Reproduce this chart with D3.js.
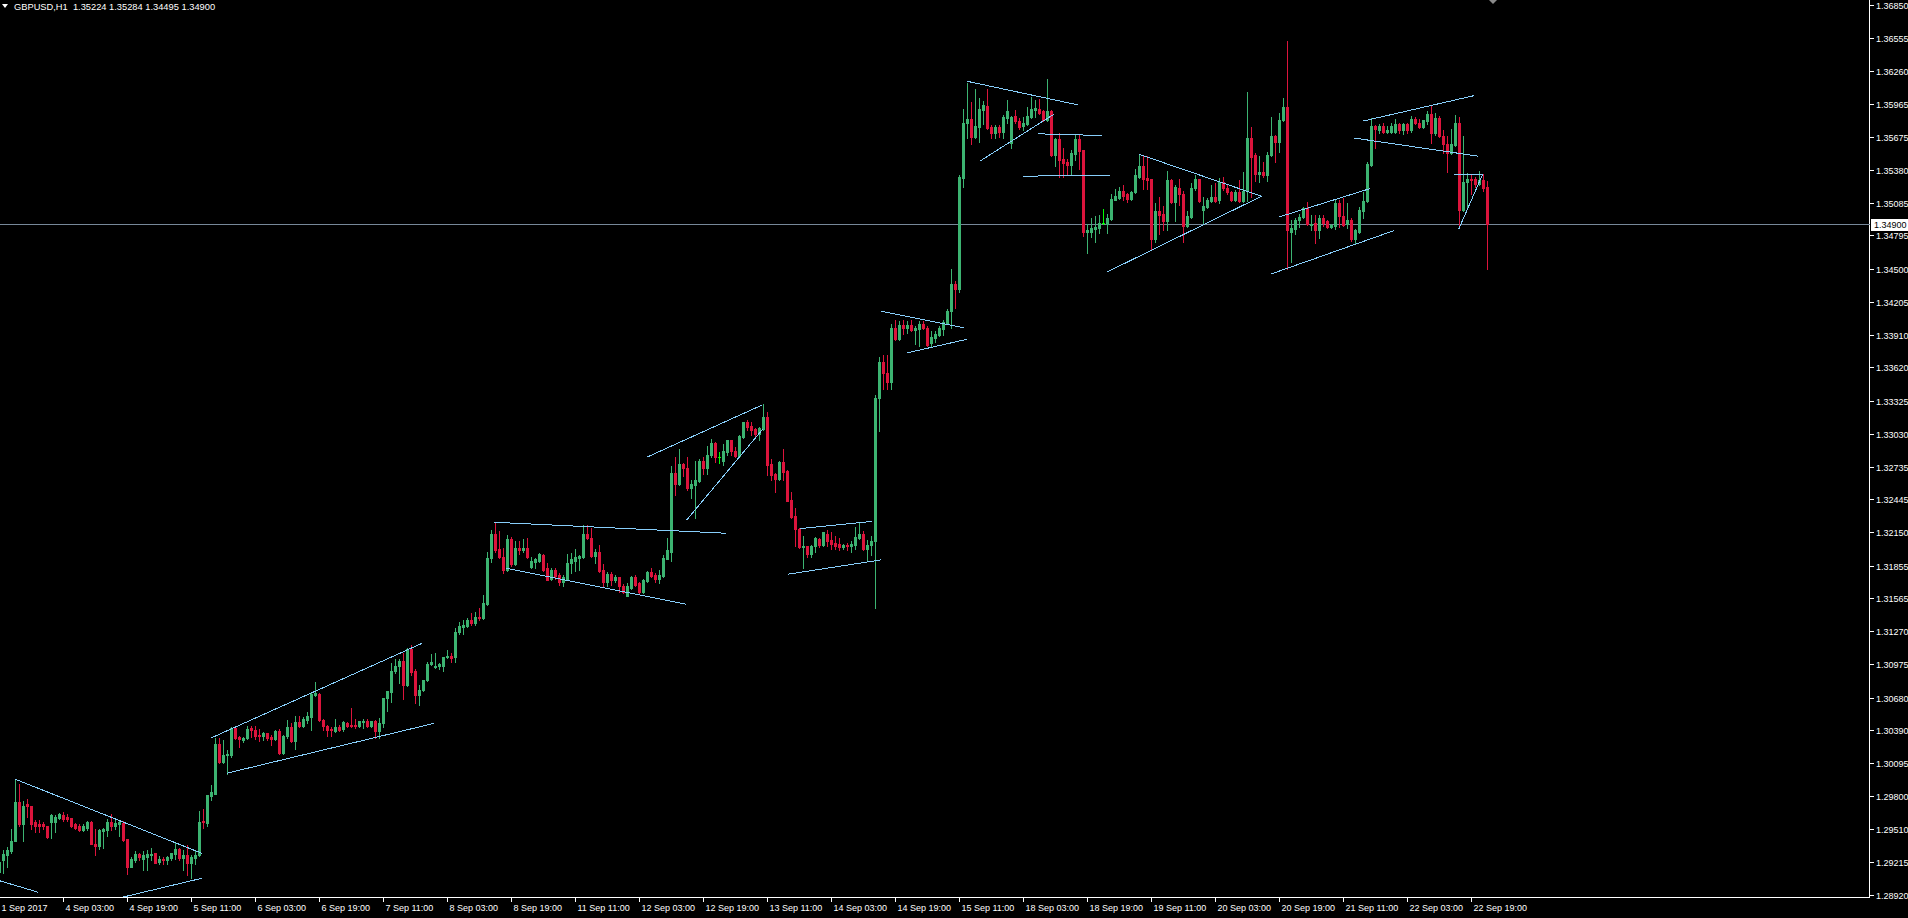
<!DOCTYPE html>
<html>
<head>
<meta charset="utf-8">
<script src="https://cdn.jsdelivr.net/npm/d3@7"></script>
<style>
html, body { margin: 0; padding: 0; background: #000; overflow: hidden; }
svg { display: block; }
text { font-family: "Liberation Sans", Arial, sans-serif; font-size: 9px; fill: #fff; }
</style>
</head>
<body>
<script>
var WIDTH = 1908;
var HEIGHT = 918;
var AXIS_X = 1869.5;
var AXIS_Y = 897.5;

var header = "GBPUSD,H1  1.35224 1.35284 1.34495 1.34900";
var bidPrice = 1.34900;

// one label every 16 hourly bars, first bar = 1 Sep 11:00
var timeLabels = ["1 Sep 2017", "4 Sep 03:00", "4 Sep 19:00", "5 Sep 11:00", "6 Sep 03:00", "6 Sep 19:00",
  "7 Sep 11:00", "8 Sep 03:00", "8 Sep 19:00", "11 Sep 11:00", "12 Sep 03:00", "12 Sep 19:00",
  "13 Sep 11:00", "14 Sep 03:00", "14 Sep 19:00", "15 Sep 11:00", "18 Sep 03:00", "18 Sep 19:00",
  "19 Sep 11:00", "20 Sep 03:00", "20 Sep 19:00", "21 Sep 11:00", "22 Sep 03:00", "22 Sep 19:00"];

var priceTicks = [1.36850, 1.36555, 1.36260, 1.35965, 1.35675, 1.35380, 1.35085, 1.34795, 1.34500,
  1.34205, 1.33910, 1.33620, 1.33325, 1.33030, 1.32735, 1.32445, 1.32150, 1.31855, 1.31565,
  1.31270, 1.30975, 1.30680, 1.30390, 1.30095, 1.29800, 1.29510, 1.29215, 1.28920];

var opens = [
1.2913,1.2923,1.2928,1.2931,1.2940,1.2975,1.2955,1.2973,1.2971,1.2957,
1.2955,1.2955,1.2954,1.2957,1.2957,1.2961,1.2963,1.2962,1.2961,1.2955,
1.2954,1.2950,1.2952,1.2957,1.2938,1.2936,1.2949,1.2950,1.2957,1.2954,
1.2955,1.2956,1.2942,1.2917,1.2923,1.2929,1.2924,1.2926,1.2928,1.2930,
1.2922,1.2924,1.2923,1.2925,1.2929,1.2933,1.2925,1.2928,1.2921,1.2925,
1.2928,1.2958,1.2956,1.2980,1.2982,1.3027,1.3011,1.3017,1.3017,1.3041,
1.3033,1.3030,1.3032,1.3041,1.3039,1.3035,1.3034,1.3036,1.3033,1.3031,
1.3038,1.3019,1.3034,1.3042,1.3029,1.3046,1.3043,1.3048,1.3051,1.3070,
1.3071,1.3048,1.3043,1.3040,1.3038,1.3042,1.3040,1.3045,1.3044,1.3044,
1.3043,1.3046,1.3047,1.3043,1.3047,1.3038,1.3045,1.3068,1.3073,1.3092,
1.3096,1.3101,1.3079,1.3111,1.3092,1.3070,1.3075,1.3084,1.3098,1.3095,
1.3096,1.3096,1.3104,1.3105,1.3104,1.3126,1.3131,1.3132,1.3137,1.3134,
1.3140,1.3139,1.3151,1.3192,1.3214,1.3200,1.3193,1.3182,1.3209,1.3187,
1.3201,1.3199,1.3201,1.3184,1.3189,1.3190,1.3195,1.3183,1.3174,1.3182,
1.3177,1.3171,1.3174,1.3188,1.3190,1.3192,1.3193,1.3214,1.3210,1.3194,
1.3198,1.3182,1.3171,1.3178,1.3173,1.3175,1.3167,1.3158,1.3166,1.3175,
1.3170,1.3162,1.3172,1.3180,1.3177,1.3174,1.3176,1.3191,1.3198,1.3268,
1.3258,1.3276,1.3272,1.3255,1.3257,1.3261,1.3279,1.3272,1.3284,1.3295,
1.3282,1.3279,1.3287,1.3297,1.3288,1.3283,1.3300,1.3313,1.3310,1.3307,
1.3303,1.3307,1.3318,1.3276,1.3267,1.3263,1.3278,1.3270,1.3244,1.3230,
1.3218,1.3202,1.3203,1.3196,1.3203,1.3209,1.3204,1.3214,1.3208,1.3206,
1.3205,1.3202,1.3204,1.3203,1.3204,1.3210,1.3214,1.3200,1.3204,1.3207,
1.3335,1.3367,1.3357,1.3349,1.3397,1.3387,1.3400,1.3397,1.3400,1.3395,
1.3396,1.3401,1.3397,1.3384,1.3388,1.3391,1.3396,1.3401,1.3412,1.3436,
1.3432,1.3531,1.3580,1.3583,1.3567,1.3576,1.3591,1.3595,1.3576,1.3571,
1.3576,1.3572,1.3584,1.3562,1.3586,1.3581,1.3577,1.3579,1.3585,1.3591,
1.3592,1.3590,1.3582,1.3590,1.3551,1.3565,1.3548,1.3545,1.3542,1.3552,
1.3565,1.3556,1.3483,1.3483,1.3485,1.3486,1.3491,1.3490,1.3494,1.3511,
1.3513,1.3519,1.3516,1.3512,1.3518,1.3532,1.3541,1.3531,1.3530,1.3476,
1.3501,1.3499,1.3492,1.3529,1.3509,1.3522,1.3516,1.3488,1.3496,1.3522,
1.3530,1.3502,1.3505,1.3510,1.3514,1.3511,1.3527,1.3522,1.3518,1.3511,
1.3518,1.3510,1.3519,1.3566,1.3551,1.3534,1.3536,1.3533,1.3551,1.3568,
1.3563,1.3582,1.3594,1.3483,1.3485,1.3493,1.3496,1.3504,1.3489,1.3491,
1.3484,1.3495,1.3492,1.3487,1.3488,1.3508,1.3497,1.3490,1.3493,1.3476,
1.3483,1.3501,1.3510,1.3542,1.3577,1.3573,1.3577,1.3572,1.3572,1.3572,
1.3579,1.3573,1.3579,1.3573,1.3583,1.3580,1.3576,1.3581,1.3588,1.3571,
1.3584,1.3568,1.3561,1.3553,1.3560,1.3580,1.3502,1.3527,1.3530,1.3530,
1.3525,1.3529,1.35224];

var highs = [
1.2923,1.2932,1.2935,1.2951,1.2995,1.2991,1.2976,1.2978,1.2971,1.2959,
1.2959,1.2957,1.2954,1.2964,1.2963,1.2965,1.2966,1.2964,1.2961,1.2956,
1.2955,1.2955,1.2958,1.2958,1.2951,1.2951,1.2952,1.2960,1.2964,1.2960,
1.2958,1.2958,1.2942,1.2926,1.2931,1.2930,1.2931,1.2932,1.2934,1.2930,
1.2927,1.2926,1.2927,1.2930,1.2939,1.2934,1.2932,1.2937,1.2928,1.2932,
1.2967,1.2969,1.2981,1.2990,1.3032,1.3032,1.3030,1.3021,1.3042,1.3043,
1.3034,1.3033,1.3043,1.3043,1.3043,1.3040,1.3037,1.3036,1.3035,1.3039,
1.3040,1.3035,1.3048,1.3045,1.3052,1.3052,1.3051,1.3055,1.3072,1.3082,
1.3072,1.3049,1.3044,1.3042,1.3049,1.3044,1.3047,1.3046,1.3059,1.3049,
1.3047,1.3049,1.3049,1.3047,1.3048,1.3050,1.3068,1.3074,1.3099,1.3102,
1.3102,1.3108,1.3112,1.3115,1.3093,1.3079,1.3084,1.3100,1.3107,1.3108,
1.3099,1.3104,1.3110,1.3108,1.3130,1.3135,1.3137,1.3139,1.3143,1.3144,
1.3148,1.3159,1.3198,1.3217,1.3224,1.3216,1.3201,1.3213,1.3211,1.3207,
1.3207,1.3209,1.3210,1.3193,1.3192,1.3197,1.3196,1.3188,1.3183,1.3183,
1.3179,1.3177,1.3196,1.3197,1.3200,1.3195,1.3222,1.3222,1.3219,1.3200,
1.3204,1.3187,1.3180,1.3180,1.3177,1.3175,1.3169,1.3170,1.3176,1.3177,
1.3171,1.3174,1.3181,1.3183,1.3179,1.3182,1.3195,1.3210,1.3274,1.3282,
1.3289,1.3277,1.3282,1.3262,1.3279,1.3280,1.3282,1.3292,1.3298,1.3296,
1.3287,1.3294,1.3297,1.3297,1.3291,1.3302,1.3313,1.3315,1.3313,1.3308,
1.3309,1.3329,1.3322,1.3280,1.3268,1.3279,1.3289,1.3271,1.3251,1.3237,
1.3219,1.3212,1.3203,1.3204,1.3211,1.3210,1.3215,1.3217,1.3215,1.3212,
1.3210,1.3205,1.3206,1.3207,1.3220,1.3224,1.3216,1.3208,1.3212,1.3337,
1.3371,1.3373,1.3373,1.3401,1.3404,1.3403,1.3404,1.3403,1.3404,1.3399,
1.3403,1.3403,1.3399,1.3394,1.3394,1.3399,1.3404,1.3414,1.3450,1.3439,
1.3533,1.3592,1.3615,1.3598,1.3610,1.3602,1.3599,1.3610,1.3578,1.3578,
1.3578,1.3587,1.3600,1.3586,1.3591,1.3584,1.3585,1.3594,1.3603,1.3600,
1.3601,1.3591,1.3619,1.3591,1.3566,1.3571,1.3557,1.3548,1.3556,1.3569,
1.3570,1.3556,1.3490,1.3495,1.3497,1.3498,1.3503,1.3499,1.3516,1.3521,
1.3523,1.3524,1.3517,1.3519,1.3539,1.3552,1.3550,1.3550,1.3530,1.3508,
1.3514,1.3506,1.3537,1.3530,1.3524,1.3530,1.3519,1.3501,1.3526,1.3533,
1.3530,1.3514,1.3513,1.3524,1.3526,1.3531,1.3532,1.3525,1.3519,1.3520,
1.3529,1.3536,1.3607,1.3576,1.3553,1.3550,1.3545,1.3554,1.3585,1.3569,
1.3589,1.3602,1.3653,1.3493,1.3495,1.3499,1.3505,1.3509,1.3498,1.3498,
1.3498,1.3498,1.3493,1.3490,1.3512,1.3511,1.3513,1.3508,1.3495,1.3485,
1.3505,1.3518,1.3545,1.3584,1.3578,1.3579,1.3580,1.3577,1.3580,1.3583,
1.3580,1.3580,1.3580,1.3586,1.3585,1.3583,1.3582,1.3590,1.3595,1.3589,
1.3586,1.3573,1.3568,1.3574,1.3587,1.3585,1.3568,1.3535,1.3534,1.3532,
1.3537,1.3534,1.35284];

var lows = [
1.2911,1.2912,1.2917,1.2930,1.2940,1.2954,1.2940,1.2962,1.2951,1.2948,
1.2948,1.2951,1.2943,1.2943,1.2948,1.2960,1.2958,1.2958,1.2953,1.2951,
1.2949,1.2949,1.2950,1.2938,1.2928,1.2933,1.2934,1.2945,1.2950,1.2951,
1.2945,1.2940,1.2911,1.2917,1.2922,1.2923,1.2914,1.2914,1.2923,1.2921,
1.2920,1.2920,1.2920,1.2923,1.2924,1.2923,1.2914,1.2910,1.2907,1.2920,
1.2927,1.2952,1.2954,1.2977,1.2982,1.3010,1.3010,1.3000,1.3015,1.3031,
1.3024,1.3028,1.3031,1.3033,1.3031,1.3029,1.3030,1.3030,1.3026,1.3030,
1.3018,1.3018,1.3032,1.3028,1.3022,1.3042,1.3042,1.3045,1.3039,1.3069,
1.3047,1.3039,1.3034,1.3034,1.3037,1.3038,1.3038,1.3042,1.3042,1.3041,
1.3042,1.3041,1.3042,1.3042,1.3032,1.3032,1.3042,1.3056,1.3064,1.3090,
1.3081,1.3067,1.3078,1.3088,1.3063,1.3061,1.3074,1.3083,1.3097,1.3094,
1.3093,1.3092,1.3103,1.3100,1.3100,1.3125,1.3125,1.3131,1.3133,1.3133,
1.3137,1.3138,1.3150,1.3189,1.3198,1.3192,1.3179,1.3181,1.3185,1.3186,
1.3196,1.3198,1.3192,1.3183,1.3183,1.3189,1.3181,1.3173,1.3173,1.3174,
1.3168,1.3167,1.3173,1.3179,1.3181,1.3182,1.3192,1.3209,1.3193,1.3188,
1.3180,1.3167,1.3167,1.3168,1.3171,1.3162,1.3161,1.3158,1.3165,1.3167,
1.3161,1.3161,1.3171,1.3175,1.3171,1.3170,1.3175,1.3191,1.3190,1.3248,
1.3257,1.3265,1.3253,1.3246,1.3228,1.3260,1.3267,1.3267,1.3282,1.3278,
1.3277,1.3275,1.3284,1.3284,1.3282,1.3282,1.3299,1.3306,1.3302,1.3301,
1.3297,1.3306,1.3266,1.3262,1.3251,1.3262,1.3262,1.3243,1.3228,1.3203,
1.3201,1.3183,1.3193,1.3193,1.3198,1.3202,1.3203,1.3203,1.3200,1.3200,
1.3199,1.3200,1.3199,1.3198,1.3200,1.3209,1.3199,1.3190,1.3195,1.3148,
1.3305,1.3343,1.3343,1.3343,1.3386,1.3386,1.3392,1.3393,1.3394,1.3383,
1.3381,1.3396,1.3381,1.3381,1.3385,1.3390,1.3391,1.3401,1.3397,1.3415,
1.3429,1.3523,1.3566,1.3561,1.3566,1.3563,1.3579,1.3574,1.3566,1.3566,
1.3567,1.3566,1.3580,1.3557,1.3580,1.3574,1.3573,1.3578,1.3584,1.3585,
1.3588,1.3581,1.3581,1.3550,1.3541,1.3532,1.3532,1.3533,1.3533,1.3547,
1.3539,1.3479,1.3464,1.3478,1.3474,1.3482,1.3490,1.3482,1.3493,1.3511,
1.3512,1.3511,1.3509,1.3511,1.3517,1.3531,1.3521,1.3521,1.3467,1.3474,
1.3481,1.3484,1.3484,1.3508,1.3492,1.3507,1.3474,1.3487,1.3495,1.3520,
1.3509,1.3490,1.3504,1.3509,1.3509,1.3508,1.3520,1.3516,1.3510,1.3510,
1.3509,1.3509,1.3510,1.3514,1.3528,1.3527,1.3532,1.3528,1.3550,1.3545,
1.3554,1.3581,1.3450,1.3456,1.3481,1.3487,1.3495,1.3489,1.3484,1.3473,
1.3477,1.3488,1.3486,1.3486,1.3485,1.3487,1.3488,1.3486,1.3475,1.3472,
1.3482,1.3495,1.3509,1.3541,1.3557,1.3571,1.3571,1.3571,1.3571,1.3571,
1.3571,1.3570,1.3571,1.3572,1.3579,1.3575,1.3575,1.3579,1.3562,1.3569,
1.3567,1.3553,1.3536,1.3552,1.3559,1.3487,1.3501,1.3505,1.3516,1.3523,
1.3524,1.3519,1.34495];

var closes = [
1.2922,1.2929,1.2932,1.2940,1.2975,1.2955,1.2971,1.2971,1.2955,1.2954,
1.2954,1.2954,1.2944,1.2963,1.2962,1.2964,1.2960,1.2960,1.2954,1.2952,
1.2950,1.2954,1.2957,1.2938,1.2936,1.2950,1.2951,1.2957,1.2954,1.2956,
1.2957,1.2941,1.2917,1.2924,1.2929,1.2926,1.2928,1.2929,1.2929,1.2921,
1.2924,1.2923,1.2926,1.2930,1.2933,1.2925,1.2928,1.2921,1.2926,1.2928,
1.2957,1.2957,1.2981,1.2984,1.3027,1.3011,1.3017,1.3018,1.3041,1.3032,
1.3031,1.3032,1.3040,1.3039,1.3034,1.3034,1.3036,1.3032,1.3031,1.3038,
1.3019,1.3034,1.3042,1.3029,1.3046,1.3043,1.3049,1.3052,1.3071,1.3072,
1.3048,1.3043,1.3039,1.3039,1.3042,1.3039,1.3046,1.3043,1.3043,1.3043,
1.3047,1.3047,1.3043,1.3047,1.3038,1.3045,1.3068,1.3074,1.3092,1.3096,
1.3101,1.3079,1.3111,1.3091,1.3070,1.3075,1.3084,1.3098,1.3100,1.3096,
1.3098,1.3104,1.3105,1.3103,1.3126,1.3132,1.3133,1.3137,1.3134,1.3140,
1.3139,1.3152,1.3192,1.3214,1.3199,1.3193,1.3182,1.3209,1.3187,1.3201,
1.3199,1.3201,1.3193,1.3190,1.3191,1.3196,1.3182,1.3173,1.3182,1.3176,
1.3171,1.3175,1.3188,1.3191,1.3193,1.3194,1.3214,1.3210,1.3194,1.3198,
1.3181,1.3171,1.3178,1.3173,1.3175,1.3167,1.3162,1.3167,1.3175,1.3168,
1.3162,1.3173,1.3180,1.3176,1.3174,1.3177,1.3192,1.3199,1.3268,1.3258,
1.3276,1.3272,1.3255,1.3258,1.3262,1.3279,1.3272,1.3284,1.3295,1.3282,
1.3282,1.3288,1.3297,1.3288,1.3283,1.3301,1.3313,1.3309,1.3306,1.3303,
1.3308,1.3318,1.3275,1.3266,1.3263,1.3278,1.3269,1.3243,1.3229,1.3218,
1.3202,1.3203,1.3196,1.3203,1.3210,1.3204,1.3215,1.3207,1.3205,1.3203,
1.3202,1.3204,1.3203,1.3205,1.3211,1.3214,1.3200,1.3204,1.3207,1.3335,
1.3367,1.3357,1.3349,1.3397,1.3387,1.3400,1.3397,1.3400,1.3395,1.3397,
1.3401,1.3397,1.3382,1.3389,1.3392,1.3397,1.3402,1.3412,1.3436,1.3432,
1.3532,1.3580,1.3583,1.3567,1.3577,1.3592,1.3596,1.3575,1.3571,1.3576,
1.3572,1.3585,1.3590,1.3585,1.3581,1.3576,1.3580,1.3586,1.3592,1.3593,
1.3589,1.3582,1.3590,1.3551,1.3565,1.3547,1.3544,1.3542,1.3553,1.3565,
1.3555,1.3483,1.3484,1.3486,1.3487,1.3491,1.3491,1.3495,1.3512,1.3515,
1.3519,1.3515,1.3512,1.3518,1.3533,1.3541,1.3530,1.3529,1.3476,1.3501,
1.3498,1.3492,1.3529,1.3509,1.3523,1.3516,1.3488,1.3497,1.3522,1.3530,
1.3510,1.3506,1.3511,1.3514,1.3510,1.3527,1.3522,1.3518,1.3511,1.3518,
1.3510,1.3519,1.3566,1.3549,1.3534,1.3536,1.3533,1.3551,1.3568,1.3563,
1.3582,1.3594,1.3484,1.3486,1.3493,1.3496,1.3504,1.3490,1.3490,1.3484,
1.3495,1.3491,1.3487,1.3489,1.3508,1.3497,1.3489,1.3493,1.3476,1.3484,
1.3502,1.3510,1.3543,1.3577,1.3574,1.3577,1.3572,1.3573,1.3577,1.3579,
1.3573,1.3579,1.3573,1.3583,1.3580,1.3576,1.3582,1.3588,1.3571,1.3584,
1.3568,1.3561,1.3553,1.3561,1.3580,1.3502,1.3527,1.3530,1.3529,1.3525,
1.3529,1.3522,1.34900];

// hand drawn trend lines: [bar, price, bar, price]
var trendLines = [
  [3.8, 1.29955, 50.6, 1.29293], [0, 1.29049, 9.7, 1.28946], [30.6, 1.28901, 50.6, 1.29071],
  [52.75, 1.30318, 105.7, 1.31164], [56.8, 1.30006, 108.7, 1.30451],
  [123.75, 1.32241, 181.7, 1.32143], [126.7, 1.31832, 171.7, 1.31511],
  [161.8, 1.32820, 190.7, 1.33286], [171.8, 1.32262, 190.8, 1.33070],
  [200.2, 1.32185, 218.2, 1.32249], [197, 1.31778, 220.4, 1.31906],
  [220.4, 1.34120, 241, 1.33973], [227, 1.33750, 241.9, 1.33871],
  [241.9, 1.36168, 269.6, 1.35958], [245.2, 1.35459, 263.75, 1.35878],
  [259.75, 1.35700, 275.7, 1.35685], [255.8, 1.35323, 277.7, 1.35332],
  [284.8, 1.35519, 315.7, 1.35142], [276.8, 1.34468, 315.7, 1.35148],
  [319.75, 1.34958, 342.7, 1.35213], [317.75, 1.34450, 348.7, 1.34839],
  [340.8, 1.35813, 368.75, 1.36041], [338.75, 1.35662, 369.7, 1.35501],
  [363.75, 1.35335, 371, 1.35341], [364.8, 1.34851, 370.8, 1.35341]
];

var BULL = "#3cb371", BEAR = "#dc143c", DOJI = "#00ff00", TREND = "#87cefa";

var xScale = d3.scaleLinear().domain([0, 372]).range([-0.5, 1487.5]);
var yScale = d3.scaleLinear().domain([1.28920, 1.36850]).range([895.2, 4.7]);

var py = function (p) { return Math.round(yScale(p)); };

var draw = function () {
  var svg = d3.select("body").append("svg")
    .attr("width", WIDTH)
    .attr("height", HEIGHT)
    .style("background", "#000");

  var candles = opens.map(function (o, i) {
    return {i: i, o: o, h: highs[i], l: lows[i], c: closes[i]};
  });
  var colorOf = function (d) { return d.c > d.o ? BULL : (d.c < d.o ? BEAR : DOJI); };

  var plot = svg.append("g").attr("shape-rendering", "crispEdges");

  // bid line
  plot.append("line")
    .attr("x1", 0).attr("x2", AXIS_X)
    .attr("y1", py(bidPrice) + 0.5).attr("y2", py(bidPrice) + 0.5)
    .attr("stroke", "#778899");

  // wicks
  plot.append("g").selectAll("rect")
    .data(candles).enter().append("rect")
    .attr("x", function (d) { return xScale(d.i) - 0.5; })
    .attr("y", function (d) { return py(d.h); })
    .attr("width", 1)
    .attr("height", function (d) { return Math.max(1, py(d.l) - py(d.h) + 1); })
    .attr("fill", colorOf);

  // bodies
  plot.append("g").selectAll("rect")
    .data(candles).enter().append("rect")
    .attr("x", function (d) { return xScale(d.i) - 1.5; })
    .attr("y", function (d) { return py(Math.max(d.o, d.c)); })
    .attr("width", 3)
    .attr("height", function (d) { return Math.max(1, py(Math.min(d.o, d.c)) - py(Math.max(d.o, d.c)) + 1); })
    .attr("fill", colorOf);

  // trend lines
  plot.append("g").selectAll("line")
    .data(trendLines).enter().append("line")
    .attr("x1", function (d) { return xScale(d[0]); })
    .attr("y1", function (d) { return yScale(d[1]); })
    .attr("x2", function (d) { return xScale(d[2]); })
    .attr("y2", function (d) { return yScale(d[3]); })
    .attr("stroke", TREND)
    .attr("stroke-width", 1);

  // axes
  var axes = svg.append("g").attr("shape-rendering", "crispEdges");
  axes.append("line").attr("x1", 0).attr("x2", AXIS_X).attr("y1", AXIS_Y).attr("y2", AXIS_Y).attr("stroke", "#fff");
  axes.append("line").attr("x1", AXIS_X).attr("x2", AXIS_X).attr("y1", 0).attr("y2", AXIS_Y).attr("stroke", "#fff");

  var tx = axes.append("g").selectAll("g")
    .data(timeLabels).enter().append("g")
    .attr("transform", function (d, i) { return "translate(" + xScale(i * 16) + ",0)"; });
  tx.append("line").attr("x1", 0).attr("x2", 0).attr("y1", AXIS_Y).attr("y2", AXIS_Y + 4).attr("stroke", "#fff");
  tx.append("text").attr("x", 2).attr("y", 911).text(function (d) { return d; });

  var ty = axes.append("g").selectAll("g")
    .data(priceTicks).enter().append("g")
    .attr("transform", function (d) { return "translate(0," + (py(d) + 0.5) + ")"; });
  ty.append("line").attr("x1", AXIS_X).attr("x2", AXIS_X + 4).attr("y1", 0).attr("y2", 0).attr("stroke", "#fff");
  ty.append("text").attr("x", 1876).attr("y", 3.3).text(function (d) { return d.toFixed(5); });

  // bid price label
  var by = py(bidPrice) + 0.5;
  axes.append("line").attr("x1", AXIS_X - 9).attr("x2", AXIS_X).attr("y1", by).attr("y2", by).attr("stroke", "#778899");
  axes.append("rect").attr("x", 1871).attr("y", by - 6).attr("width", 37).attr("height", 12).attr("fill", "#fff");
  axes.append("text").attr("x", 1874).attr("y", by + 3.3).style("fill", "#000").text(bidPrice.toFixed(5));

  // header
  svg.append("path").attr("d", "M2,4L8,4L5,8Z").attr("fill", "#fff");
  svg.append("text").attr("x", 14).attr("y", 9.5).attr("xml:space", "preserve")
    .style("white-space", "pre").style("font-size", "9.3px").text(header);

  // chart shift marker
  svg.append("path").attr("d", "M1489,0L1497,0L1493,4Z").attr("fill", "#8a8a8a");
};

window.onload = draw;
</script>
</body>
</html>
